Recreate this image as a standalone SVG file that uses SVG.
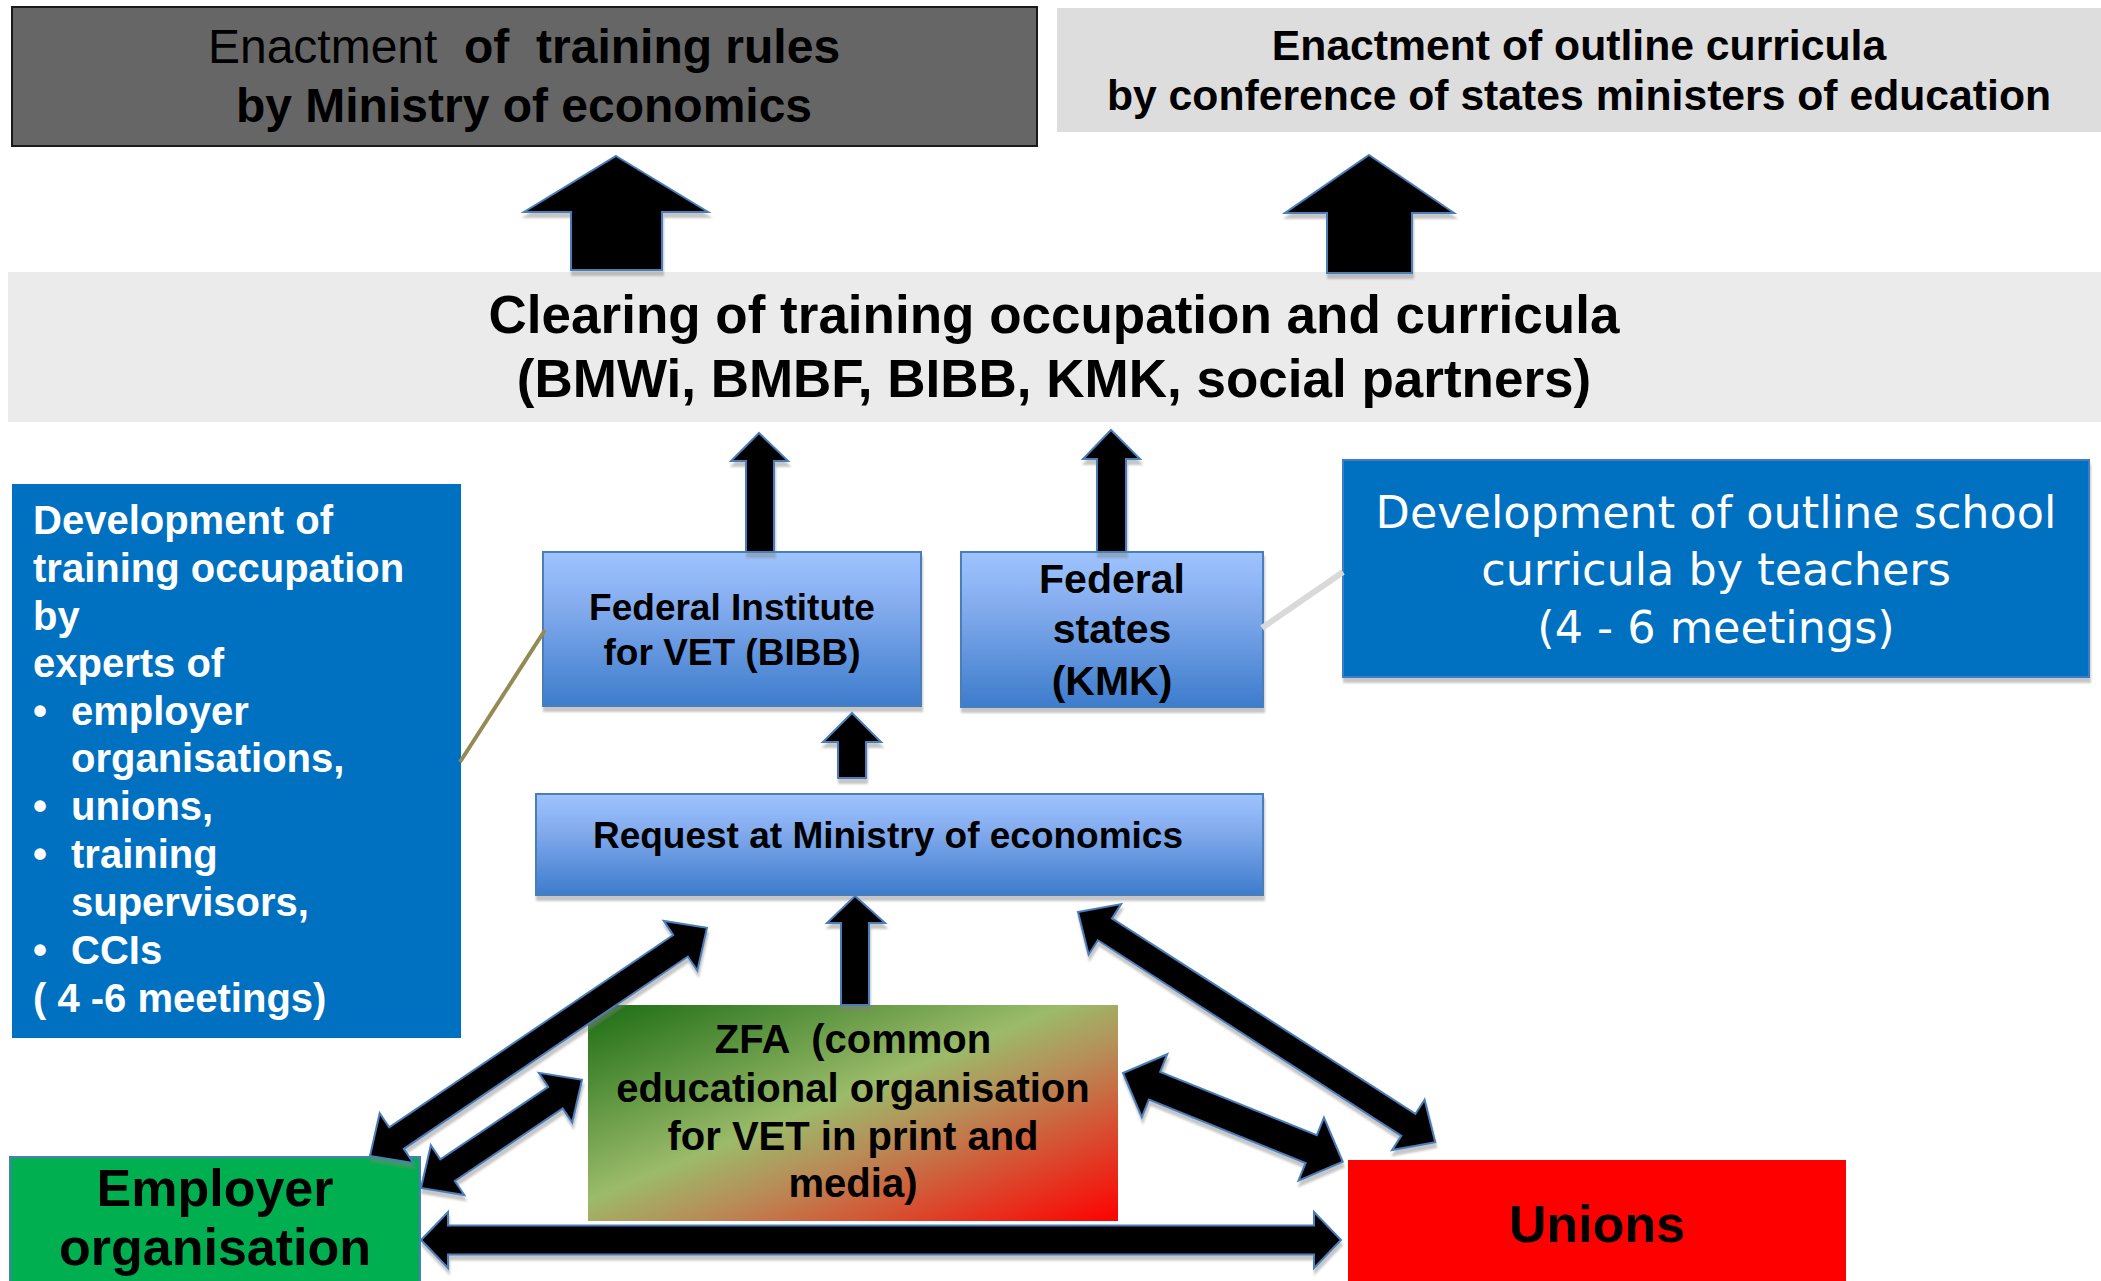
<svg xmlns="http://www.w3.org/2000/svg" width="2101" height="1281" viewBox="0 0 2101 1281">
<defs>
<style>
.b{font-family:"Liberation Sans",Arial,sans-serif;font-weight:bold;fill:#000}
.w{fill:#fff}
.arr{fill:#000;stroke:#4a7ebb;stroke-width:2;stroke-linejoin:miter}
.bluebox{fill:url(#gBlue);stroke:#4a7ebb;stroke-width:2}
</style>
<linearGradient id="gBlue" x1="0" y1="0" x2="0" y2="1">
<stop offset="0" stop-color="#9ec4ff"/>
<stop offset="0.35" stop-color="#84acee"/>
<stop offset="1" stop-color="#3d7ccc"/>
</linearGradient>
<linearGradient id="gZfa" x1="0" y1="0" x2="1" y2="1">
<stop offset="0" stop-color="#1b6c13"/>
<stop offset="0.45" stop-color="#9bbb6a"/>
<stop offset="0.6" stop-color="#b88c57"/>
<stop offset="1" stop-color="#ff0000"/>
</linearGradient>
<filter id="sh" x="-10%" y="-10%" width="120%" height="130%">
<feDropShadow dx="1" dy="5" stdDeviation="1" flood-color="#808080" flood-opacity="0.45"/>
</filter>
</defs>
<rect width="2101" height="1281" fill="#fff"/>

<g id="enact-rules">
<rect x="12" y="7" width="1025" height="139" fill="#666666" stroke="#1a1a1a" stroke-width="2"/>
<text class="b" x="524" y="63" font-size="48" text-anchor="middle" xml:space="preserve"><tspan font-weight="normal">Enactment</tspan>  of  training rules</text>
<text class="b" x="524" y="122" font-size="48" text-anchor="middle">by Ministry of economics</text>
</g>

<g id="enact-curricula">
<rect x="1057" y="8" width="1044" height="124" fill="#dddddd"/>
<text class="b" x="1579" y="60" font-size="42.7" text-anchor="middle">Enactment of outline curricula</text>
<text class="b" x="1579" y="110" font-size="42.7" text-anchor="middle">by conference of states ministers of education</text>
</g>

<g id="clearing">
<rect x="8" y="272" width="2093" height="150" fill="#ebebeb"/>
<text class="b" x="1054" y="333" font-size="53" text-anchor="middle">Clearing of training occupation and curricula</text>
<text class="b" x="1054" y="397" font-size="53" text-anchor="middle">(BMWi, BMBF, BIBB, KMK, social partners)</text>
</g>

<g id="dev-training">
<rect x="12" y="484" width="449" height="554" fill="#0070c0"/>
<g font-size="40">
<text x="33" y="534" class="b w">Development of</text>
<text x="33" y="582" class="b w">training occupation</text>
<text x="33" y="630" class="b w">by</text>
<text x="33" y="677" class="b w">experts of</text>
<text x="33" y="725" class="b w">•</text><text x="71" y="725" class="b w">employer</text>
<text x="71" y="772" class="b w">organisations,</text>
<text x="33" y="820" class="b w">•</text><text x="71" y="820" class="b w">unions,</text>
<text x="33" y="868" class="b w">•</text><text x="71" y="868" class="b w">training</text>
<text x="71" y="916" class="b w">supervisors,</text>
<text x="33" y="964" class="b w">•</text><text x="71" y="964" class="b w">CCIs</text>
<text x="33" y="1012" class="b w">( 4 -6 meetings)</text>
</g>
</g>

<g id="bibb">
<rect class="bluebox" x="543" y="552" width="378" height="154" filter="url(#sh)"/>
<text class="b" x="732" y="620" font-size="37" text-anchor="middle">Federal Institute</text>
<text class="b" x="732" y="665" font-size="37" text-anchor="middle">for VET (BIBB)</text>
</g>

<g id="kmk">
<rect class="bluebox" x="961" y="552" width="302" height="155" filter="url(#sh)"/>
<text class="b" x="1112" y="593" font-size="41" text-anchor="middle">Federal</text>
<text class="b" x="1112" y="643" font-size="41" text-anchor="middle">states</text>
<text class="b" x="1112" y="695" font-size="41" text-anchor="middle">(KMK)</text>
</g>

<g id="dev-school">
<rect x="1343" y="460" width="746" height="217" fill="#0070c0" stroke="#3f7cc4" stroke-width="2" filter="url(#sh)"/>
<g font-family="'DejaVu Sans',Verdana,sans-serif" font-size="44.5" fill="#fff" text-anchor="middle">
<text x="1716" y="528">Development of outline school</text>
<text x="1716" y="585">curricula by teachers</text>
<text x="1716" y="643">(4 - 6 meetings)</text>
</g>
</g>

<g id="request">
<rect class="bluebox" x="536" y="794" width="727" height="101" filter="url(#sh)"/>
<text class="b" x="888" y="848" font-size="37" text-anchor="middle">Request at Ministry of economics</text>
</g>

<g id="zfa">
<rect x="588" y="1005" width="530" height="216" fill="url(#gZfa)"/>
<text class="b" x="853" y="1053" font-size="40" text-anchor="middle" xml:space="preserve">ZFA  (common</text>
<text class="b" x="853" y="1102" font-size="40" text-anchor="middle">educational organisation</text>
<text class="b" x="853" y="1150" font-size="40" text-anchor="middle">for VET in print and</text>
<text class="b" x="853" y="1197" font-size="40" text-anchor="middle">media)</text>
</g>

<g id="employer">
<rect x="10" y="1157" width="410" height="140" fill="#00b050" stroke="#4a7ebb" stroke-width="2"/>
<text class="b" x="215" y="1206" font-size="52" text-anchor="middle">Employer</text>
<text class="b" x="215" y="1265" font-size="52" text-anchor="middle">organisation</text>
</g>

<g id="unions">
<rect x="1348" y="1160" width="498" height="130" fill="#ff0000"/>
<text class="b" x="1597" y="1242" font-size="52" text-anchor="middle">Unions</text>
</g>

<g id="connectors">
<line x1="460" y1="762" x2="545" y2="630" stroke="#948a54" stroke-width="4"/>
<line x1="1262" y1="628" x2="1343" y2="572" stroke="#d9d9d9" stroke-width="6"/>
<g filter="url(#sh)">
<polygon class="arr" points="616,156 708,212 662,212 662,270 571,270 571,212 524,212"/>
<polygon class="arr" points="1369,155 1454,213 1412,213 1412,273 1327,273 1327,213 1285,213"/>
<polygon class="arr" points="759,433 788,461 774,461 774,552 746,552 746,461 731,461"/>
<polygon class="arr" points="1111,430 1140,459 1126,459 1126,552 1097,552 1097,459 1083,459"/>
<polygon class="arr" points="852,713 881,742 866,742 866,778 838,778 838,742 823,742"/>
<polygon class="arr" points="855,896 885,923 869,923 869,1005 841,1005 841,923 827,923"/>
<polygon class="arr" transform="translate(370,1156) rotate(-34.1)" points="0,0 32,-30 32,-13 375,-13 375,-30 407,0 375,30 375,13 32,13 32,30"/>
<polygon class="arr" transform="translate(421,1188) rotate(-33.9)" points="0,0 32,-30 32,-13 162,-13 162,-30 194,0 162,30 162,13 32,13 32,30"/>
<polygon class="arr" transform="translate(1078,912) rotate(32.8)" points="0,0 32,-30 32,-13 393,-13 393,-30 425,0 393,30 393,13 32,13 32,30"/>
<polygon class="arr" transform="translate(1123,1073) rotate(22)" points="0,0 34,-34 34,-15 203,-15 203,-34 237,0 203,34 203,15 34,15 34,34"/>
<polygon class="arr" points="421,1240 448,1212 448,1225.5 1314,1225.5 1314,1212 1341,1240 1314,1268 1314,1254.5 448,1254.5 448,1268"/>
</g>
</g>
</svg>
